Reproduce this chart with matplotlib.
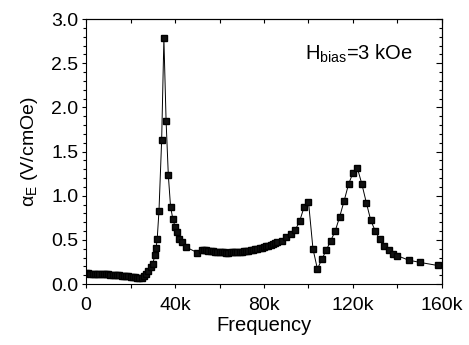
import matplotlib
matplotlib.use('Agg')
import matplotlib.pyplot as plt
from matplotlib.ticker import MultipleLocator, FuncFormatter

plt.rcParams['font.family'] = ['Liberation Sans', 'DejaVu Sans']
plt.rcParams['mathtext.fontset'] = 'custom'
plt.rcParams['mathtext.rm'] = 'Liberation Sans'
plt.rcParams['mathtext.it'] = 'Liberation Sans:italic'
plt.rcParams['mathtext.default'] = 'regular'

# frequency in Hz, ME coefficient in V/cmOe
freq_k = [0, 1, 2, 3, 4, 5, 6, 7, 8, 9, 10, 11, 12, 13, 14, 15, 16, 17, 18, 19,
          20, 21, 22, 23, 24, 25, 26, 27, 28, 29, 30, 31, 31.5, 32, 32.8, 34,
          35, 36, 37, 38, 39, 40, 40.8, 41.8, 43, 44.8, 50, 52, 53, 54, 55, 56,
          57, 58, 59, 60, 61, 62, 63, 64, 65, 66, 67, 68, 69, 70, 71, 72, 73,
          74, 75, 76, 77, 78, 79, 80, 81, 82, 83, 84, 85, 86, 88, 90, 92, 94,
          96, 98, 100, 102, 104, 106, 108, 110, 112, 114, 116, 118, 120, 122,
          124, 126, 128, 130, 132, 134, 136, 138, 140, 145, 150, 158]
alpha_E = [0.12, 0.12, 0.118, 0.117, 0.116, 0.115, 0.114, 0.113, 0.112, 0.11,
           0.108, 0.106, 0.104, 0.102, 0.10, 0.098, 0.096, 0.093, 0.09, 0.087,
           0.084, 0.08, 0.076, 0.071, 0.067, 0.07, 0.085, 0.11, 0.15, 0.19,
           0.23, 0.33, 0.41, 0.51, 0.83, 1.63, 2.78, 1.84, 1.23, 0.875, 0.74,
           0.65, 0.585, 0.51, 0.47, 0.42, 0.355, 0.39, 0.385, 0.38, 0.377,
           0.373, 0.37, 0.367, 0.364, 0.361, 0.359, 0.357, 0.356, 0.356,
           0.357, 0.358, 0.36, 0.362, 0.364, 0.367, 0.37, 0.373, 0.377, 0.381,
           0.386, 0.391, 0.397, 0.403, 0.41, 0.417, 0.425, 0.433, 0.442,
           0.452, 0.462, 0.473, 0.49, 0.53, 0.57, 0.61, 0.71, 0.87, 0.93,
           0.40, 0.17, 0.28, 0.385, 0.49, 0.60, 0.76, 0.94, 1.13, 1.26, 1.31,
           1.13, 0.92, 0.72, 0.60, 0.505, 0.43, 0.38, 0.34, 0.32, 0.27, 0.245,
           0.21]
freq = [f * 1000 for f in freq_k]

fig = plt.figure(figsize=(4.69, 3.45), dpi=100)
ax = fig.add_axes([0.1834, 0.1768, 0.759, 0.768])

ax.plot(freq, alpha_E, color='black', lw=0.7, marker='s', ms=3.8,
        mec='black', mfc='#111111')

ax.set_xlim(0, 160000)
ax.set_ylim(0, 3.0)

ax.xaxis.set_major_locator(MultipleLocator(40000))
ax.xaxis.set_minor_locator(MultipleLocator(20000))
ax.xaxis.set_major_formatter(FuncFormatter(
    lambda v, p: '0' if v == 0 else '%dk' % (v / 1000)))
ax.yaxis.set_major_locator(MultipleLocator(0.5))
ax.yaxis.set_minor_locator(MultipleLocator(0.1))
ax.yaxis.set_major_formatter(FuncFormatter(lambda v, p: '%.1f' % v))

ax.tick_params(which='major', direction='out', length=3, width=0.8,
               labelsize=14, pad=2.5)
ax.tick_params(axis='x', which='major', pad=6)
ax.tick_params(which='minor', direction='out', length=2, width=0.8)
ax.tick_params(axis='x', which='minor', length=3)

# top and right: inward ticks without labels
top = ax.secondary_xaxis('top')
top.xaxis.set_major_locator(MultipleLocator(20000))
top.tick_params(direction='in', length=3, width=0.8, labeltop=False)
right = ax.secondary_yaxis('right')
right.yaxis.set_major_locator(MultipleLocator(0.5))
right.yaxis.set_minor_locator(MultipleLocator(0.1))
right.tick_params(which='major', direction='in', length=4, width=0.8,
                  labelright=False)
right.tick_params(which='minor', direction='in', length=2, width=0.8)

for s in ax.spines.values():
    s.set_linewidth(0.8)

ax.set_xlabel('Frequency', fontsize=14.5, labelpad=2)
ax.set_ylabel(r'$\alpha_\mathrm{E}$ (V/cmOe)', fontsize=14, labelpad=8)

ax.text(98500, 2.54, r'H$_\mathrm{bias}$=3 kOe', fontsize=14.5,
        ha='left', va='baseline')

fig.savefig('out.png', dpi=100)
